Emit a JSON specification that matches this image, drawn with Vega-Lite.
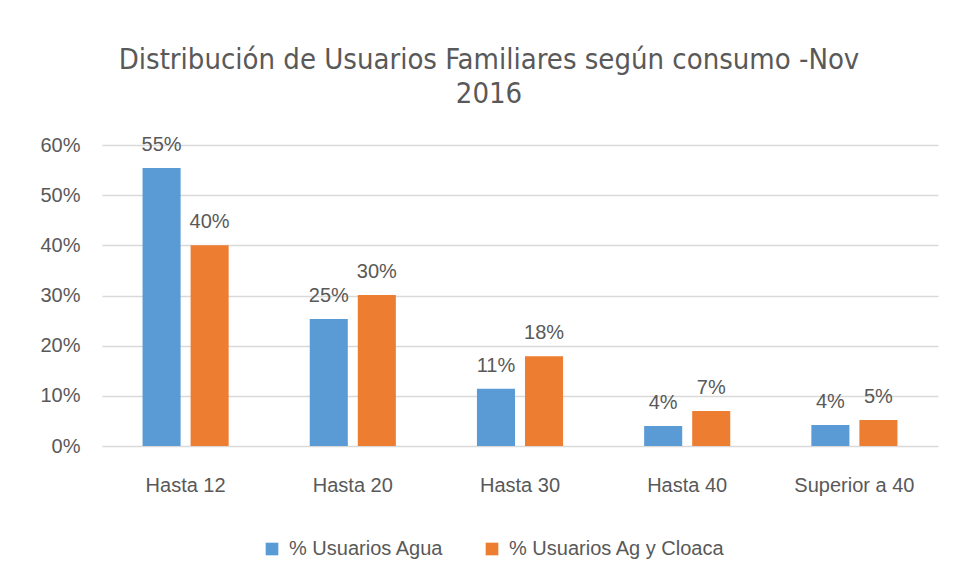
{
  "$schema": "https://vega.github.io/schema/vega-lite/v6.json",
  "autosize": {"type": "none"},
  "width": 836,
  "height": 301,
  "padding": {"left": 102, "top": 145, "right": 18, "bottom": 134},
  "background": "white",
  "title": {
    "text": ["Distribución de Usuarios Familiares según consumo -Nov", "2016"],
    "anchor": "middle",
    "frame": "group",
    "dx": -31,
    "offset": 26,
    "fontSize": 29,
    "font": "DejaVu Sans Condensed, sans-serif",
    "fontWeight": "normal",
    "color": "#595959",
    "lineHeight": 34
  },
  "data": {
    "values": [
      {"cat": "Hasta 12", "serie": "% Usuarios Agua", "v": 0.554},
      {"cat": "Hasta 12", "serie": "% Usuarios Ag y Cloaca", "v": 0.40},
      {"cat": "Hasta 20", "serie": "% Usuarios Agua", "v": 0.253},
      {"cat": "Hasta 20", "serie": "% Usuarios Ag y Cloaca", "v": 0.301},
      {"cat": "Hasta 30", "serie": "% Usuarios Agua", "v": 0.114},
      {"cat": "Hasta 30", "serie": "% Usuarios Ag y Cloaca", "v": 0.179},
      {"cat": "Hasta 40", "serie": "% Usuarios Agua", "v": 0.040},
      {"cat": "Hasta 40", "serie": "% Usuarios Ag y Cloaca", "v": 0.070},
      {"cat": "Superior a 40", "serie": "% Usuarios Agua", "v": 0.042},
      {"cat": "Superior a 40", "serie": "% Usuarios Ag y Cloaca", "v": 0.052}
    ]
  },
  "encoding": {
    "x": {
      "field": "cat", "type": "nominal", "sort": null, "title": null,
      "scale": {"paddingInner": 0.485, "paddingOuter": 0.2425},
      "axis": {"labelAngle": 0, "labelPadding": 29, "ticks": false, "domain": false, "grid": false,
               "labelFontSize": 20, "labelColor": "#595959", "labelFont": "Liberation Sans, sans-serif"}
    },
    "xOffset": {"field": "serie", "type": "nominal", "sort": ["% Usuarios Agua", "% Usuarios Ag y Cloaca"],
                "scale": {"paddingInner": 0.208, "paddingOuter": 0}},
    "y": {
      "field": "v", "type": "quantitative", "title": null,
      "scale": {"domain": [0, 0.6], "nice": false},
      "axis": {"format": ".0%", "values": [0, 0.1, 0.2, 0.3, 0.4, 0.5, 0.6], "labelOverlap": false,
               "domain": false, "ticks": false, "labelPadding": 22,
               "gridColor": "#d9d9d9", "gridWidth": 1.3,
               "labelFontSize": 20, "labelColor": "#595959", "labelFont": "Liberation Sans, sans-serif"}
    }
  },
  "layer": [
    {
      "mark": {"type": "bar"},
      "encoding": {
        "color": {
          "field": "serie", "type": "nominal", "sort": ["% Usuarios Agua", "% Usuarios Ag y Cloaca"],
          "scale": {"domain": ["% Usuarios Agua", "% Usuarios Ag y Cloaca"], "range": ["#5b9bd5", "#ed7d31"]},
          "legend": {
            "title": null, "orient": "none", "direction": "horizontal",
            "legendX": 160, "legendY": 394,
            "symbolType": "square", "symbolSize": 160, "symbolStrokeWidth": 0,
            "labelFontSize": 20, "labelColor": "#595959", "labelFont": "Liberation Sans, sans-serif",
            "labelLimit": 0, "columnPadding": 38, "labelOffset": 7
          }
        }
      }
    },
    {
      "mark": {"type": "text", "dy": -13, "baseline": "bottom", "fontSize": 20, "color": "#595959",
               "font": "Liberation Sans, sans-serif"},
      "encoding": {
        "text": {"field": "v", "type": "quantitative", "format": ".0%"}
      }
    }
  ],
  "config": {"view": {"stroke": null}}
}
